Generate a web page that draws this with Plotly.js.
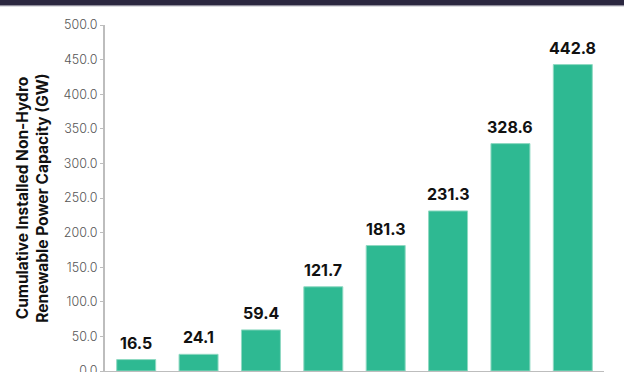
<!DOCTYPE html>
<html>
<head>
<meta charset="utf-8">
<script src="https://cdn.plot.ly/plotly-3.0.1.min.js"></script>
<style>
html,body{margin:0;padding:0;background:#fff;overflow:hidden;}
#chart{width:624px;height:372px;}
</style>
</head>
<body>
<div id="chart"></div>
<script>
const categories = ["Bar 1","Bar 2","Bar 3","Bar 4","Bar 5","Bar 6","Bar 7","Bar 8"];
const capacityGW = [16.5, 24.1, 59.4, 121.7, 181.3, 231.3, 328.6, 442.8];
const valueLabels = ["16.5","24.1","59.4","121.7","181.3","231.3","328.6","442.8"];
const yTickVals = [0,50,100,150,200,250,300,350,400,450,500];
const yTickText = ["0.0","50.0","100.0","150.0","200.0","250.0","300.0","350.0","400.0","450.0","500.0"];
const yTitle = "Cumulative Installed Non-Hydro<br>Renewable Power Capacity (GW)";

const trace = {
  type: "bar",
  x: categories,
  y: capacityGW,
  marker: {color: "#2eb992", line: {color: "#8fd9c2", width: 1}},
  hoverinfo: "none"
};

const annotations = categories.map((c, i) => ({
  x: c, y: capacityGW[i], xref: "x", yref: "y",
  text: valueLabels[i], showarrow: false,
  yanchor: "bottom", yshift: 5,
  font: {family: "Inter, Roboto, sans-serif", size: 16, color: "#111", weight: 700}
}));

const layout = {
  width: 624, height: 372,
  margin: {l: 105, r: 20, t: 25, b: 1, pad: 0},
  paper_bgcolor: "#fff", plot_bgcolor: "#fff",
  showlegend: false,
  bargap: 0.375,
  xaxis: {
    type: "category", showticklabels: false, ticks: "",
    showline: true, linecolor: "#bdbdbd", linewidth: 2,
    showgrid: false, zeroline: false, fixedrange: true
  },
  yaxis: {
    range: [0, 500], tickvals: yTickVals, ticktext: yTickText,
    ticks: "outside", ticklen: 3, tickcolor: "#bdbdbd", tickwidth: 1,
    showline: true, linecolor: "#bdbdbd", linewidth: 2,
    showgrid: false, zeroline: false, ticklabeloverflow: "allow",
    tickfont: {family: "Inter, Roboto, sans-serif", size: 12.5, color: "#555", weight: 300},
    title: {text: yTitle, standoff: 11,
      font: {family: "Inter, Roboto, sans-serif", size: 15.5, color: "#111", weight: 700}}
  },
  annotations: annotations,
  shapes: [
    {type: "rect", xref: "paper", yref: "paper", x0: -0.3, x1: 1.1, y0: 1.0571, y1: 1.08,
     fillcolor: "#2b2740", line: {width: 0}, layer: "above"},
    {type: "rect", xref: "paper", yref: "paper", x0: -0.3, x1: 1.1, y0: 1.0543, y1: 1.0571,
     fillcolor: "#7a7888", line: {width: 0}, layer: "above"}
  ]
};

Plotly.newPlot("chart", [trace], layout, {staticPlot: true, displayModeBar: false});
</script>
</body>
</html>
